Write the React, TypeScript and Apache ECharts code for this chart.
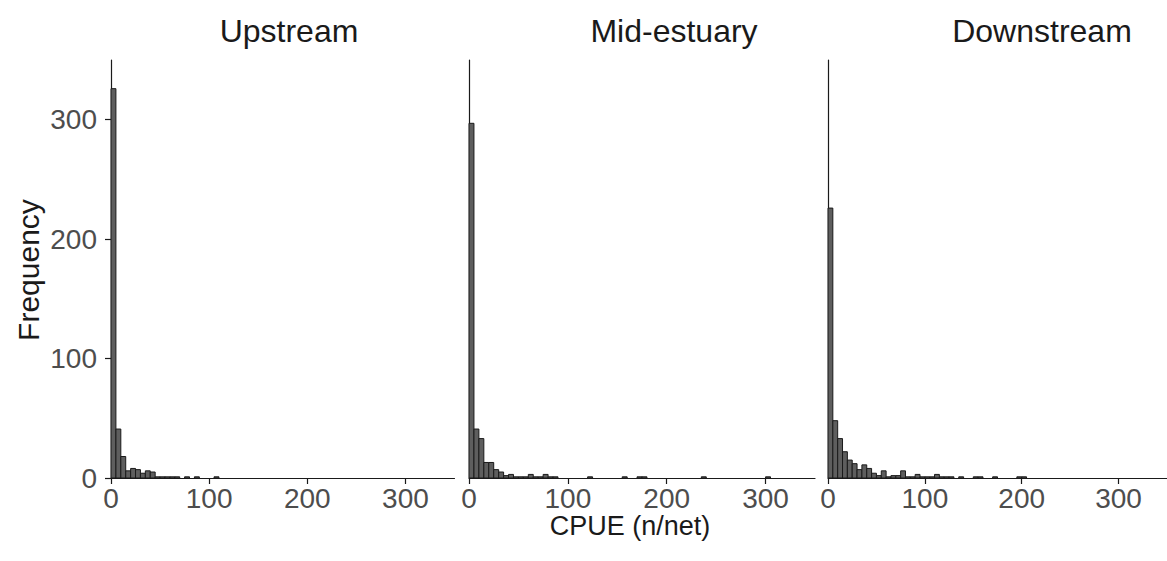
import React, { useEffect, useRef } from "react";
import * as echarts from "echarts";

// Histogram bin width (CPUE units) and axis range
const BIN_WIDTH = 5;
const X_MAX = 350;
const Y_MAX = 350;
const X_TICKS = [0, 100, 200, 300];
const Y_TICKS = [0, 100, 200, 300];

const panelTitles = ["Upstream", "Mid-estuary", "Downstream"];

// Counts per 5-unit bin, starting at 0
const upstreamCounts = [
  326, 41, 18, 6, 8, 7, 4, 6, 5, 1, 1, 1, 1, 1, 0, 1, 0, 1, 0, 0, 0, 1,
];
const midEstuaryCounts = [
  297, 41, 33, 13, 13, 7, 5, 2, 3, 1, 1, 1, 3, 1, 1, 3, 1, 1, 0, 0, 0, 0, 0,
  0, 1, 0, 0, 0, 0, 0, 0, 1, 0, 0, 1, 1, 0, 0, 0, 0, 0, 0, 0, 0, 0, 0, 0, 1,
  0, 0, 0, 0, 0, 0, 0, 0, 0, 0, 0, 0, 1,
];
const downstreamCounts = [
  226, 48, 33, 22, 15, 12, 7, 11, 8, 4, 2, 6, 1, 2, 2, 6, 1, 1, 3, 1, 1, 1, 3,
  1, 1, 1, 0, 1, 0, 0, 1, 1, 0, 0, 1, 0, 0, 0, 0, 1, 1,
];

const allCounts = [upstreamCounts, midEstuaryCounts, downstreamCounts];

// Layout (pixels)
const GRID_LEFTS = [111, 469, 828];
const GRID_WIDTHS = [343.5, 346, 347];
const GRID_TOP = 60;
const GRID_HEIGHT = 418;
const TITLE_X = [289, 674, 1042];

const FONT = "Liberation Sans, Arial, Helvetica, sans-serif";
const AXIS_COLOR = "#1a1a1a";
const LABEL_COLOR = "#4d4d4d";
const TICK_FONT = 28;
const X_TITLE_FONT = 27;
const Y_TITLE_FONT = 30;
const PANEL_TITLE_FONT = 32;

function toBins(counts: number[]) {
  const out: number[][] = [];
  counts.forEach((c, i) => {
    if (c > 0) out.push([i * BIN_WIDTH, (i + 1) * BIN_WIDTH, c]);
  });
  return out;
}

export default function App() {
  const ref = useRef<HTMLDivElement>(null);

  useEffect(() => {
    if (!ref.current) return;
    const chart = echarts.init(ref.current, undefined, { renderer: "svg" });

    const grids = GRID_LEFTS.map((left, i) => ({
      left,
      top: GRID_TOP,
      width: GRID_WIDTHS[i],
      height: GRID_HEIGHT,
      containLabel: false,
    }));

    const xAxes = GRID_LEFTS.map((_, i) => ({
      type: "value",
      gridIndex: i,
      min: 0,
      max: X_MAX,
      interval: 100,
      axisLine: { show: true, lineStyle: { color: AXIS_COLOR, width: 1.2 } },
      axisTick: {
        show: true,
        length: 6,
        lineStyle: { color: AXIS_COLOR, width: 1.2 },
        customValues: X_TICKS,
      },
      axisLabel: {
        show: true,
        fontSize: TICK_FONT,
        fontFamily: FONT,
        color: LABEL_COLOR,
        margin: 6,
        customValues: X_TICKS,
      },
      splitLine: { show: false },
    }));

    const yAxes = GRID_LEFTS.map((_, i) => ({
      type: "value",
      gridIndex: i,
      min: 0,
      max: Y_MAX,
      interval: 100,
      axisLine: { show: true, lineStyle: { color: AXIS_COLOR, width: 1.2 } },
      axisTick: {
        show: i === 0,
        length: 6,
        lineStyle: { color: AXIS_COLOR, width: 1.2 },
        customValues: Y_TICKS,
      },
      axisLabel: {
        show: i === 0,
        fontSize: TICK_FONT,
        fontFamily: FONT,
        color: LABEL_COLOR,
        margin: 14,
        customValues: Y_TICKS,
      },
      splitLine: { show: false },
    }));

    const series = allCounts.map((counts, i) => ({
      type: "custom",
      xAxisIndex: i,
      yAxisIndex: i,
      encode: { x: [0, 1], y: 2 },
      data: toBins(counts),
      renderItem: (_params: any, api: any) => {
        const x0 = api.value(0);
        const x1 = api.value(1);
        const c = api.value(2);
        const pTop = api.coord([x0, c]);
        const pBot = api.coord([x1, 0]);
        return {
          type: "rect",
          shape: {
            x: pTop[0],
            y: pTop[1],
            width: pBot[0] - pTop[0],
            height: pBot[1] - pTop[1],
          },
          style: { fill: "#5e5e5e", stroke: "#1a1a1a", lineWidth: 1 },
        };
      },
    }));

    const titles = panelTitles.map((t, i) => ({
      type: "text",
      x: TITLE_X[i],
      y: 31,
      style: {
        text: t,
        fontSize: PANEL_TITLE_FONT,
        fontFamily: FONT,
        fill: "#1a1a1a",
        textAlign: "center",
        textVerticalAlign: "middle",
      },
    }));

    chart.setOption({
      animation: false,
      backgroundColor: "#ffffff",
      grid: grids,
      xAxis: xAxes,
      yAxis: yAxes,
      series,
      graphic: [
        ...titles,
        {
          type: "text",
          x: 630,
          y: 526,
          style: {
            text: "CPUE (n/net)",
            fontSize: X_TITLE_FONT,
            fontFamily: FONT,
            fill: "#1a1a1a",
            textAlign: "center",
            textVerticalAlign: "middle",
          },
        },
        {
          type: "text",
          x: 28,
          y: 270,
          rotation: Math.PI / 2,
          style: {
            text: "Frequency",
            fontSize: Y_TITLE_FONT,
            fontFamily: FONT,
            fill: "#1a1a1a",
            textAlign: "center",
            textVerticalAlign: "middle",
          },
        },
      ],
    });

    return () => chart.dispose();
  }, []);

  return (
    <div
      ref={ref}
      style={{
        position: "fixed",
        left: 0,
        top: 0,
        width: 1167,
        height: 561,
        background: "#fff",
      }}
    />
  );
}
